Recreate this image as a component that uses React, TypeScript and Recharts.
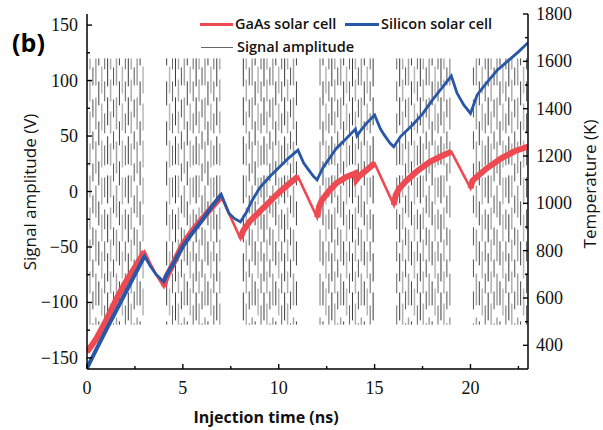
import { ComposedChart, Line, XAxis, YAxis } from "recharts";

// temperature curves (K)
const gaasTime = [
  0, 0.25, 0.5, 1, 1.5, 2, 2.5, 3, 3.3, 3.6, 4, 4.15, 4.5, 5, 5.5, 6, 6.5, 7,
  8, 8.15, 8.5, 9, 9.5, 10, 10.5, 11, 12, 12.1, 12.25, 12.6, 13, 13.5, 14,
  14.05, 14.2, 14.5, 15, 16, 16.1, 16.3, 16.7, 17.2, 17.9, 18.5, 19, 20, 20.1,
  20.35, 20.8, 21.6, 22.3, 23,
];
const gaasTemp = [
  372, 400, 430, 505, 590, 665, 730, 796, 745, 700, 648, 690, 745, 828, 885,
  934, 982, 1028, 852, 885, 925, 965, 1005, 1045, 1080, 1113, 941, 985, 1014,
  1050, 1085, 1110, 1127, 1100, 1115, 1135, 1169, 993, 1035, 1065, 1099, 1135,
  1176, 1200, 1218, 1064, 1095, 1113, 1145, 1190, 1220, 1240,
];
const siliconTime = [
  0, 0.5, 1, 1.5, 2, 2.5, 3, 3.3, 3.6, 4, 4.1, 4.5, 5, 5.5, 6, 6.5, 7, 7.4,
  7.7, 8, 8.3, 8.6, 9, 9.5, 10, 10.5, 11, 11.3, 11.5, 11.8, 12, 12.3, 12.7, 13,
  13.5, 14, 14.08, 14.3, 14.6, 15, 15.3, 15.5, 15.8, 16, 16.35, 17, 17.5, 18,
  18.5, 19, 19.3, 19.65, 20, 20.35, 20.8, 21.4, 22, 22.5, 23,
];
const siliconTemp = [
  304, 385, 465, 543, 621, 699, 777, 735, 700, 669, 690, 745, 818, 875, 928,
  985, 1038, 958, 935, 922, 960, 1010, 1065, 1110, 1150, 1190, 1225, 1170,
  1148, 1115, 1099, 1150, 1197, 1232, 1272, 1314, 1285, 1310, 1340, 1373, 1315,
  1289, 1255, 1239, 1282, 1333, 1378, 1435, 1487, 1538, 1465, 1416, 1380, 1458,
  1505, 1563, 1605, 1640, 1679,
];

// signal bursts (ns) and envelope (V)
const burstStart = [0, 4, 8, 12, 16, 20];
const burstEnd = [3, 7, 11, 15, 19, 23];
const signalHigh = 120;
const signalLow = -120;
const strokesPerNs = 6.5;

const xTicks = [0, 2.5, 5, 7.5, 10, 12.5, 15, 17.5, 20, 22.5];
const leftTicks = [
  -150, -125, -100, -75, -50, -25, 0, 25, 50, 75, 100, 125, 150,
];
const rightTicks = [
  400, 500, 600, 700, 800, 900, 1000, 1100, 1200, 1300, 1400, 1500, 1600, 1700,
  1800,
];

const RED = "#EE4A52";
const BLUE = "#2957A7";
const serif = "'Liberation Serif', 'Times New Roman', serif";
const sans = "'Open Sans', 'Noto Sans', sans-serif";

type Row = { t: number; v: number | null };

const gaasRows: Row[] = gaasTime.map((t, i) => ({ t, v: gaasTemp[i] }));
const siliconRows: Row[] = siliconTime.map((t, i) => ({ t, v: siliconTemp[i] }));

// heating parts only (thicker, noisy looking band)
function heatingRows(ts: number[], vs: number[], upTo = burstStart.length) {
  const out: Row[] = [];
  for (let b = 0; b < upTo; b++) {
    ts.forEach((t, i) => {
      if (t >= burstStart[b] && t <= burstEnd[b]) out.push({ t, v: vs[i] });
    });
    out.push({ t: burstEnd[b], v: null });
  }
  return out;
}
const gaasBand = heatingRows(gaasTime, gaasTemp);
const siliconBand = heatingRows(siliconTime, siliconTemp, 2);

// the fast oscillation shows up as broken vertical strokes; a few stroke looks
const strokeStyles = [
  { color: "#3a3a3a", width: 1, dash: "28 11", offset: 0 },
  { color: "#b0b0b0", width: 1.5, dash: "22 10", offset: 11 },
  { color: "#555", width: 1, dash: "18 14", offset: 23 },
  { color: "#a4a4a4", width: 1.5, dash: "32 12", offset: 5 },
  { color: "#444", width: 1, dash: "24 16", offset: 17 },
  { color: "#b8b8b8", width: 1.5, dash: "27 10", offset: 29 },
  { color: "#666", width: 1, dash: "20 12", offset: 9 },
];

const signalGroups: Row[][] = strokeStyles.map(() => []);
burstStart.forEach((start, b) => {
  let k = 1;
  while (start + k / strokesPerNs <= burstEnd[b] - 0.02) {
    const t = start + k / strokesPerNs;
    const g = signalGroups[(k + b * 3) % strokeStyles.length];
    g.push({ t, v: signalHigh }, { t, v: signalLow }, { t, v: null });
    k++;
  }
});

const tickFont = { fontFamily: serif, fontSize: 18, fill: "#111" };

const BottomTick = (p: any) => {
  const major = p.payload.value % 5 === 0;
  return (
    <g>
      <line x1={p.x} x2={p.x} y1={p.y} y2={p.y - (major ? 5 : 3)} stroke="#000" strokeWidth={1.4} />
      {major && (
        <text x={p.x} y={p.y + 25} textAnchor="middle" {...tickFont}>
          {p.payload.value}
        </text>
      )}
    </g>
  );
};

const TopTick = (p: any) => {
  const major = p.payload.value % 5 === 0;
  return <line x1={p.x} x2={p.x} y1={p.y} y2={p.y + (major ? 5 : 3)} stroke="#000" strokeWidth={1.4} />;
};

const LeftTick = (p: any) => {
  const major = p.payload.value % 50 === 0;
  return (
    <g>
      <line x1={p.x} x2={p.x + (major ? 5 : 3)} y1={p.y} y2={p.y} stroke="#000" strokeWidth={1.4} />
      {major && (
        <text x={p.x - 9} y={p.y + 6} textAnchor="end" {...tickFont}>
          {p.payload.value < 0 ? `\u2212${-p.payload.value}` : p.payload.value}
        </text>
      )}
    </g>
  );
};

const RightTick = (p: any) => {
  const major = p.payload.value % 200 === 0;
  return (
    <g>
      <line x1={p.x} x2={p.x - (major ? 5 : 3)} y1={p.y} y2={p.y} stroke="#000" strokeWidth={1.4} />
      {major && (
        <text x={p.x + 8} y={p.y + 6} textAnchor="start" {...tickFont}>
          {p.payload.value}
        </text>
      )}
    </g>
  );
};

const legendText = {
  position: "absolute" as const,
  fontFamily: sans,
  fontWeight: 600,
  fontSize: 14.5,
  lineHeight: "20px",
  color: "#111",
  whiteSpace: "nowrap" as const,
};

const LegendBox = () => (
  <>
    <div style={{ position: "absolute", left: 200, top: 22.5, width: 33, height: 3, background: RED }} />
    <div style={{ ...legendText, left: 235, top: 14 }}>GaAs solar cell</div>
    <div style={{ position: "absolute", left: 345, top: 22.5, width: 34, height: 3, background: BLUE }} />
    <div style={{ ...legendText, left: 381, top: 14 }}>Silicon solar cell</div>
    <div style={{ position: "absolute", left: 201, top: 46.5, width: 32, height: 1, background: "#666" }} />
    <div style={{ ...legendText, left: 237, top: 37 }}>Signal amplitude</div>
  </>
);

export default function App() {
  return (
    <div style={{ position: "absolute", left: 0, top: 0, width: 603, height: 430, background: "#fff" }}>
      <ComposedChart width={603} height={430} margin={{ top: 14, right: 0, bottom: 0, left: 0 }}>
        <XAxis
          xAxisId="bottom"
          type="number"
          dataKey="t"
          domain={[0, 23]}
          ticks={xTicks}
          interval={0}
          height={61}
          tickLine={false}
          tickSize={0}
          tickMargin={0}
          tick={BottomTick}
          axisLine={{ stroke: "#000", strokeWidth: 1.5 }}
          allowDataOverflow
        />
        <XAxis
          xAxisId="top"
          orientation="top"
          type="number"
          dataKey="t"
          domain={[0, 23]}
          ticks={xTicks}
          interval={0}
          height={0}
          tickLine={false}
          tickSize={0}
          tickMargin={0}
          tick={TopTick}
          axisLine={{ stroke: "#000", strokeWidth: 1.5 }}
          allowDataOverflow
        />
        <YAxis
          yAxisId="sig"
          type="number"
          domain={[-160, 160]}
          ticks={leftTicks}
          interval={0}
          width={87}
          tickLine={false}
          tickSize={0}
          tickMargin={0}
          tick={LeftTick}
          axisLine={{ stroke: "#000", strokeWidth: 1.5 }}
          allowDataOverflow
        />
        <YAxis
          yAxisId="temp"
          orientation="right"
          type="number"
          domain={[300, 1800]}
          ticks={rightTicks}
          interval={0}
          width={75}
          tickLine={false}
          tickSize={0}
          tickMargin={0}
          tick={RightTick}
          axisLine={{ stroke: "#000", strokeWidth: 1.5 }}
          allowDataOverflow
        />
        {strokeStyles.map((s, i) => (
          <Line
            key={"sig" + i}
            data={signalGroups[i]}
            dataKey="v"
            xAxisId="bottom"
            yAxisId="sig"
            type="linear"
            stroke={s.color}
            strokeWidth={s.width}
            strokeDasharray={s.dash}
            strokeDashoffset={s.offset}
            dot={false}
            activeDot={false}
            isAnimationActive={false}
          />
        ))}
        <Line
          data={gaasBand}
          dataKey="v"
          xAxisId="bottom"
          yAxisId="temp"
          type="linear"
          stroke={RED}
          strokeWidth={6}
          dot={false}
          activeDot={false}
          isAnimationActive={false}
        />
        <Line
          data={gaasRows}
          dataKey="v"
          name="GaAs solar cell"
          xAxisId="bottom"
          yAxisId="temp"
          type="linear"
          stroke={RED}
          strokeWidth={2.6}
          dot={false}
          activeDot={false}
          isAnimationActive={false}
        />
        <Line
          data={siliconBand}
          dataKey="v"
          xAxisId="bottom"
          yAxisId="temp"
          type="linear"
          stroke={BLUE}
          strokeWidth={4}
          dot={false}
          activeDot={false}
          isAnimationActive={false}
        />
        <Line
          data={siliconRows}
          dataKey="v"
          name="Silicon solar cell"
          xAxisId="bottom"
          yAxisId="temp"
          type="linear"
          stroke={BLUE}
          strokeWidth={2.8}
          dot={false}
          activeDot={false}
          isAnimationActive={false}
        />
      </ComposedChart>
      <LegendBox />
      <div style={{ position: "absolute", left: 28.5, top: 41.5, transform: "translate(-50%,-50%)", fontFamily: sans, fontWeight: 700, fontSize: 25, lineHeight: "30px" }}>
        (b)
      </div>
      <div style={{ position: "absolute", left: 30, top: 192, transform: "translate(-50%,-50%) rotate(-90deg)", fontFamily: sans, fontSize: 17, lineHeight: "22px", whiteSpace: "nowrap", color: "#111" }}>
        Signal amplitude (V)
      </div>
      <div style={{ position: "absolute", left: 590, top: 184, transform: "translate(-50%,-50%) rotate(-90deg)", fontFamily: sans, fontSize: 17, lineHeight: "22px", whiteSpace: "nowrap", color: "#111" }}>
        Temperature (K)
      </div>
      <div style={{ position: "absolute", left: 266, top: 417, transform: "translate(-50%,-50%)", fontFamily: sans, fontWeight: 700, fontSize: 16, lineHeight: "20px", whiteSpace: "nowrap", color: "#111" }}>
        Injection time (ns)
      </div>
    </div>
  );
}
